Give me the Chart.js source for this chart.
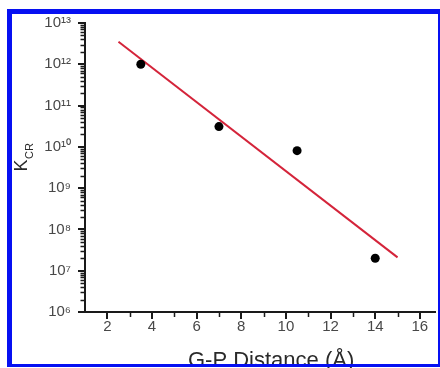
<!DOCTYPE html>
<html>
<head>
<meta charset="utf-8">
<script src="https://cdn.jsdelivr.net/npm/chart.js@4"></script>
<style>
  html, body { margin: 0; padding: 0; background: #fff; }
  #wrap { position: relative; width: 440px; height: 368px; }
  #frame {
    position: absolute; left: 7px; top: 9px; width: 433px; height: 358px;
    box-sizing: border-box; pointer-events: none;
    border-style: solid; border-color: #0610f2;
    border-width: 5px 2px 3px 5px;
  }
</style>
</head>
<body>
<div id="wrap">
  <canvas id="canvas" width="440" height="368"></canvas>
  <div id="frame"></div>
</div>
<script>
'use strict';

// measured points
var distances = [3.5, 7, 10.5, 14];
var rates = [1.0e12, 3.1e10, 8.1e9, 2.0e7];

// fitted line (ends only)
var fitX = [2.5, 15];
var fitY = [3.5e12, 2.1e7];

// axes
var xTicks = [2, 4, 6, 8, 10, 12, 14, 16];
var xMinor = [3, 5, 7, 9, 11, 13, 15];
var yTicks = [1e6, 1e7, 1e8, 1e9, 1e10, 1e11, 1e12, 1e13];
var yLabels = ['10\u2076', '10\u2077', '10\u2078', '10\u2079', '10\u00b9\u2070', '10\u00b9\u00b9', '10\u00b9\u00b2', '10\u00b9\u00b3'];
var yMinorMult = [2, 3, 4, 5, 6, 7, 8, 9];

var FONT = '"Liberation Sans", Arial, sans-serif';

// hand drawn tick marks + axis titles (K with subscript)
var axisExtras = {
    id: 'axisExtras',
    afterDraw: function (chart) {
        var ctx = chart.ctx,
            xs = chart.scales.x,
            ys = chart.scales.y,
            axX = ys.right,
            axY = xs.top;
        ctx.save();
        ctx.strokeStyle = '#1a1a1a';

        // major ticks
        ctx.lineWidth = 2;
        ctx.beginPath();
        yTicks.forEach(function (v) {
            var py = Math.round(ys.getPixelForValue(v));
            ctx.moveTo(axX, py);
            ctx.lineTo(axX - 7, py);
        });
        xTicks.forEach(function (v) {
            var px = Math.round(xs.getPixelForValue(v));
            ctx.moveTo(px, axY);
            ctx.lineTo(px, axY + 7);
        });
        ctx.stroke();

        // minor ticks
        ctx.lineWidth = 1.5;
        ctx.beginPath();
        yTicks.slice(0, -1).forEach(function (v) {
            yMinorMult.forEach(function (m) {
                var my = Math.round(ys.getPixelForValue(v * m)) + 0.5;
                ctx.moveTo(axX, my);
                ctx.lineTo(axX - 4.5, my);
            });
        });
        xMinor.forEach(function (v) {
            var px = Math.round(xs.getPixelForValue(v)) + 0.5;
            ctx.moveTo(px, axY);
            ctx.lineTo(px, axY + 5);
        });
        ctx.stroke();

        // y title
        ctx.fillStyle = '#2a2a2a';
        ctx.translate(27, 157.5);
        ctx.rotate(-Math.PI / 2);
        ctx.textBaseline = 'alphabetic';
        ctx.textAlign = 'left';
        ctx.font = '18px ' + FONT;
        var wK = ctx.measureText('K').width;
        ctx.font = '11px ' + FONT;
        var wS = ctx.measureText('CR').width;
        var start = -(wK + wS) / 2;
        ctx.font = '18px ' + FONT;
        ctx.fillText('K', start, 0);
        ctx.font = '11px ' + FONT;
        ctx.fillText('CR', start + wK + 0.5, 6);
        ctx.restore();

        // x title
        ctx.save();
        ctx.fillStyle = '#2a2a2a';
        ctx.font = '22px ' + FONT;
        ctx.textAlign = 'left';
        ctx.textBaseline = 'alphabetic';
        ctx.fillText('G-P Distance (\u00c5)', 188, 367);
        ctx.restore();
    }
};

var points = distances.map(function (d, i) { return {x: d, y: rates[i]}; });
var fit = fitX.map(function (d, i) { return {x: d, y: fitY[i]}; });

const chart = new Chart(document.getElementById('canvas').getContext('2d'), {
    type: 'scatter',
    data: {
        datasets: [
            {
                label: 'data',
                data: points,
                backgroundColor: '#000',
                borderColor: '#000',
                pointRadius: 4.5,
                pointBorderWidth: 0,
                showLine: false
            },
            {
                label: 'fit',
                data: fit,
                showLine: true,
                borderColor: '#d4243a',
                borderWidth: 2,
                pointRadius: 0,
                fill: false
            }
        ]
    },
    options: {
        responsive: false,
        animation: false,
        layout: {
            padding: {top: 22, right: 3, left: 0, bottom: 0}
        },
        plugins: {
            legend: {display: false},
            tooltip: {enabled: false},
            title: {display: false}
        },
        scales: {
            x: {
                type: 'linear',
                min: 1,
                max: 16.7,
                afterBuildTicks: function (axis) {
                    axis.ticks = xTicks.map(function (v) { return {value: v}; });
                },
                afterFit: function (axis) { axis.height = 56; },
                grid: {display: false, drawTicks: false},
                border: {display: true, color: '#1a1a1a', width: 2},
                ticks: {
                    autoSkip: false,
                    maxRotation: 0,
                    padding: 6,
                    color: '#484848',
                    font: {family: FONT, size: 15}
                }
            },
            y: {
                type: 'logarithmic',
                min: 1e6,
                max: 1e13,
                afterBuildTicks: function (axis) {
                    axis.ticks = yTicks.map(function (v) { return {value: v}; });
                },
                afterFit: function (axis) { axis.width = 85; },
                grid: {display: false, drawTicks: false},
                border: {display: true, color: '#1a1a1a', width: 2},
                ticks: {
                    autoSkip: false,
                    padding: 14,
                    color: '#484848',
                    font: {family: FONT, size: 15},
                    callback: function (value, index) { return yLabels[index]; }
                }
            }
        }
    },
    plugins: [axisExtras]
});
</script>
</body>
</html>
